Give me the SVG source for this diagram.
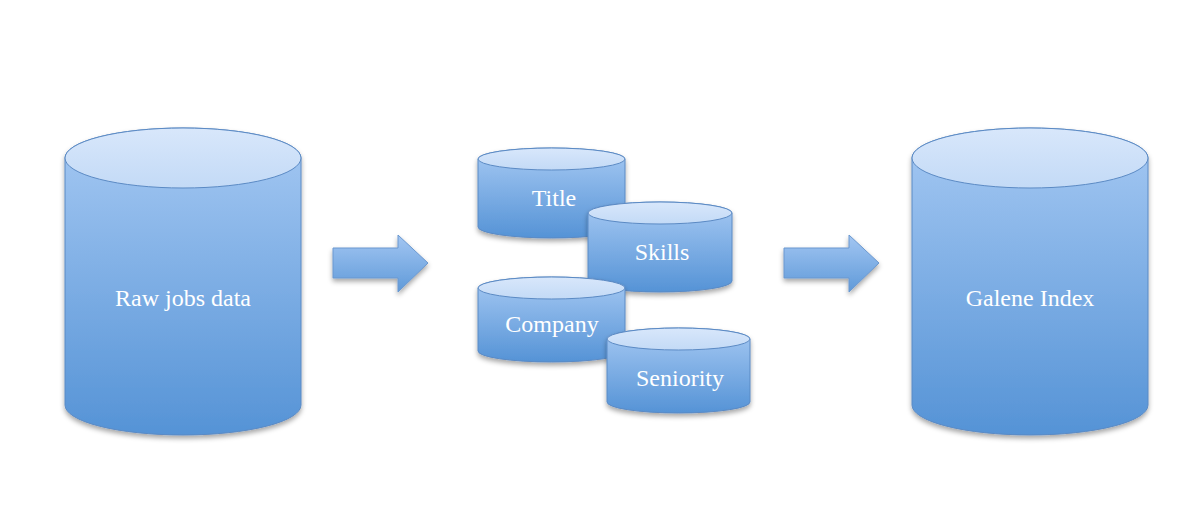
<svg xmlns="http://www.w3.org/2000/svg" width="1184" height="532" viewBox="0 0 1184 532">
<defs>
<linearGradient id="body" x1="0" y1="0" x2="0" y2="1">
<stop offset="0" stop-color="#a6c9f3"/>
<stop offset="1" stop-color="#5593d6"/>
</linearGradient>
<linearGradient id="lid" x1="0" y1="0" x2="0" y2="1">
<stop offset="0" stop-color="#d8e7fb"/>
<stop offset="1" stop-color="#c3daf6"/>
</linearGradient>
<linearGradient id="arr" x1="0" y1="0" x2="0" y2="1">
<stop offset="0" stop-color="#a3c6f2"/>
<stop offset="1" stop-color="#5f9ad9"/>
</linearGradient>
<filter id="sh" x="-10%" y="-10%" width="120%" height="125%">
<feDropShadow dx="0" dy="3" stdDeviation="2.5" flood-color="#000" flood-opacity="0.35"/>
</filter>
</defs>
<style>
.body{fill:url(#body);stroke:#5b8ac4;stroke-width:1}
.lid{fill:url(#lid);stroke:#5b8ac4;stroke-width:1}
.arrow{fill:url(#arr);stroke:#6a97cf;stroke-width:1}
text{font-family:"Liberation Serif","Times New Roman",serif;font-size:24px;fill:#ffffff;text-anchor:middle;dominant-baseline:central}
</style>
<rect width="1184" height="532" fill="#ffffff"/>

<g id="raw">
<path class="body" filter="url(#sh)" d="M65,158 L65,405 A118,30 0 0 0 301,405 L301,158 A118,30 0 0 0 65,158 Z"/>
<ellipse class="lid" cx="183" cy="158" rx="118" ry="30"/>
<text x="183" y="298">Raw jobs data</text>
</g>

<g id="title">
<path class="body" filter="url(#sh)" d="M478,159 L478,227 A73.5,11 0 0 0 625,227 L625,159 A73.5,11 0 0 0 478,159 Z"/>
<ellipse class="lid" cx="551.5" cy="159" rx="73.5" ry="11"/>
<text x="554" y="198">Title</text>
</g>

<g id="skills">
<path class="body" filter="url(#sh)" d="M588,213 L588,281 A72,11 0 0 0 732,281 L732,213 A72,11 0 0 0 588,213 Z"/>
<ellipse class="lid" cx="660" cy="213" rx="72" ry="11"/>
<text x="662" y="252">Skills</text>
</g>

<g id="company">
<path class="body" filter="url(#sh)" d="M478,288 L478,351 A73.5,11 0 0 0 625,351 L625,288 A73.5,11 0 0 0 478,288 Z"/>
<ellipse class="lid" cx="551.5" cy="288" rx="73.5" ry="11"/>
<text x="552" y="324">Company</text>
</g>

<g id="seniority">
<path class="body" filter="url(#sh)" d="M607,339 L607,402 A71.5,11 0 0 0 750,402 L750,339 A71.5,11 0 0 0 607,339 Z"/>
<ellipse class="lid" cx="678.5" cy="339" rx="71.5" ry="11"/>
<text x="680" y="378">Seniority</text>
</g>

<g id="galene">
<path class="body" filter="url(#sh)" d="M912,158 L912,405 A118,30 0 0 0 1148,405 L1148,158 A118,30 0 0 0 912,158 Z"/>
<ellipse class="lid" cx="1030" cy="158" rx="118" ry="30"/>
<text x="1030" y="298">Galene Index</text>
</g>

<g id="connectors">
<polygon class="arrow" filter="url(#sh)" points="333,248 398,248 398,235 428,263 398,292 398,278 333,278"/>
<polygon class="arrow" filter="url(#sh)" points="784,248 849,248 849,235 879,263 849,292 849,278 784,278"/>
</g>
</svg>
